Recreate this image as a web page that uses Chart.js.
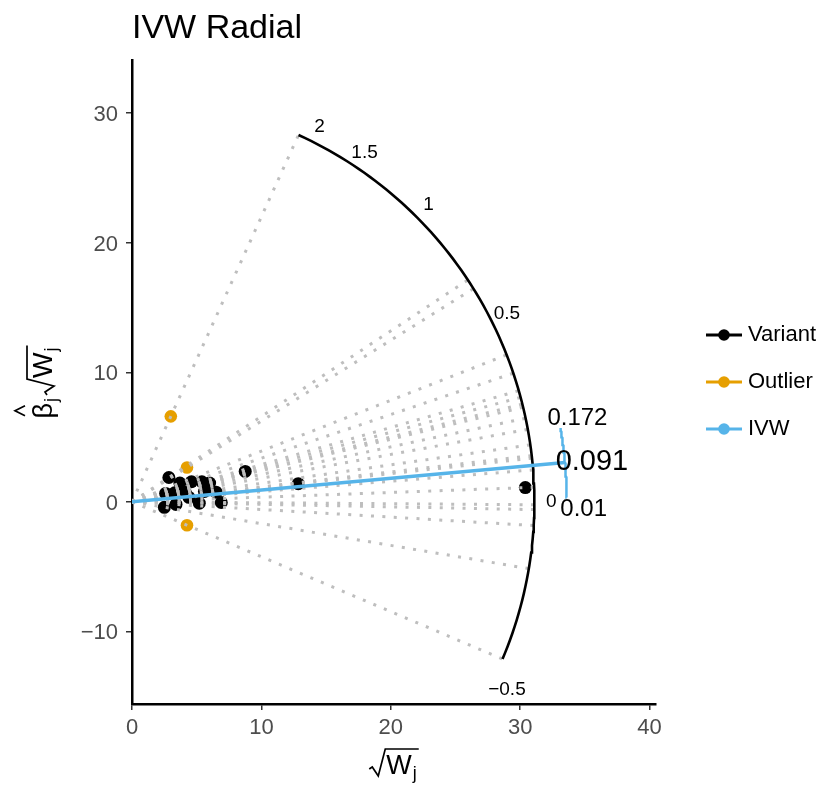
<!DOCTYPE html>
<html>
<head>
<meta charset="utf-8">
<script src="https://cdn.jsdelivr.net/npm/chart.js@4"></script>
<style>
  body { margin: 0; background: #fff; }
  #wrap { width: 828px; height: 791px; position: relative; }
</style>
</head>
<body>
<div id="wrap"><canvas id="radial-chart"></canvas></div>
<script>
// variant coordinates: sqrt(W_j) and beta_j * sqrt(W_j)
const variantX = [2.85, 3.7, 4.6, 5.4, 6.0, 2.6, 3.3, 4.1, 5.6, 6.5, 4.4, 2.5, 3.4, 5.2, 6.9, 8.75, 12.85, 30.4];
const variantY = [1.88, 1.45, 1.55, 1.55, 1.45, 0.65, 0.7, 0.75, 0.8, 0.75, 0.35, -0.42, -0.2, -0.1, -0.05, 2.35, 1.4, 1.1];
const outlierX = [3.0, 4.25, 4.25];
const outlierY = [6.6, 2.65, -1.8];

// IVW estimate and its interval
const ivwEstimate = 0.091;
const ivwLower = 0.01;
const ivwUpper = 0.172;

// slope labels written round the scale arc
const scaleValues = [2, 1.5, 1, 0.5, 0, -0.5];
const scaleLabels = ['2', '1.5', '1', '0.5', '0', '\u22120.5'];

const xTicks = [0, 10, 20, 30, 40];
const yTicks = [-10, 0, 10, 20, 30];

const FONT = "'Liberation Sans', Arial, Helvetica, sans-serif";
const R_CIRCLE = 31.1;
const R_IVW = 33.6;
const R_LABEL = 32.4;

function onCircle(slope, r) {
  const c = 1 / Math.sqrt(1 + slope * slope);
  return { x: r * c, y: r * slope * c };
}

function arcPoints(s1, s2, r) {
  const a1 = Math.atan(s1), a2 = Math.atan(s2);
  const pts = [];
  for (let i = 0; i <= 90; i++) {
    const a = a1 + (a2 - a1) * i / 90;
    pts.push({ x: r * Math.cos(a), y: r * Math.sin(a) });
  }
  return pts;
}

function fmt(v) {
  return v < 0 ? '\u2212' + Math.abs(v) : String(v);
}

const allX = variantX.concat(outlierX);
const allY = variantY.concat(outlierY);
const slopes = allX.map((x, i) => allY[i] / x);

// dotted ray for every variant, from origin to the scale arc
const rays = slopes.map(s => ({
  data: [{ x: 0, y: 0 }, onCircle(s, R_CIRCLE)],
  showLine: true,
  borderColor: '#bebebe',
  borderWidth: 3,
  borderDash: [3, 8.4],
  pointRadius: 0,
  order: 5
}));

const datasets = [
  {
    label: 'Variant',
    data: variantX.map((x, i) => ({ x: x, y: variantY[i] })),
    backgroundColor: '#000000',
    borderWidth: 0,
    pointRadius: 6.5,
    order: 10
  },
  {
    label: 'Outlier',
    data: outlierX.map((x, i) => ({ x: x, y: outlierY[i] })),
    backgroundColor: '#E69F00',
    borderWidth: 0,
    pointRadius: 6.3,
    order: 10
  },
  ...rays,
  {
    label: 'scale',
    data: arcPoints(Math.min(...slopes), Math.max(...slopes), R_CIRCLE),
    showLine: true,
    borderColor: '#000000',
    borderWidth: 2.6,
    pointRadius: 0,
    order: 2
  },
  {
    label: 'IVW',
    data: [{ x: 0, y: 0 }, onCircle(ivwEstimate, R_IVW)],
    showLine: true,
    borderColor: '#56B4E9',
    borderWidth: 3.5,
    pointRadius: 0,
    order: 1
  },
  {
    label: 'IVW CI',
    data: arcPoints(ivwLower, ivwUpper, R_IVW),
    showLine: true,
    borderColor: '#56B4E9',
    borderWidth: 2.5,
    pointRadius: 0,
    order: 1
  }
];

// draws sqrt(W_j) with baseline at base, starting at x; returns end x
function drawSqrtW(ctx, x, base) {
  ctx.font = '27px ' + FONT;
  const wW = ctx.measureText('W').width;
  ctx.font = '18px ' + FONT;
  const wj = ctx.measureText('j').width;
  const top = base - 25;
  const end = x + 17 + wW + 1 + wj + 2;
  ctx.beginPath();
  ctx.moveTo(x, base - 5);
  ctx.lineTo(x + 3, base - 7);
  ctx.lineTo(x + 9, base + 2);
  ctx.lineTo(x + 16, top);
  ctx.lineTo(end, top);
  ctx.lineWidth = 1.7;
  ctx.strokeStyle = '#000';
  ctx.stroke();
  ctx.font = '27px ' + FONT;
  ctx.fillText('W', x + 17, base);
  ctx.font = '18px ' + FONT;
  ctx.fillText('j', x + 17 + wW + 1, base + 5);
  return end;
}

function sqrtWWidth(ctx) {
  ctx.font = '27px ' + FONT;
  const wW = ctx.measureText('W').width;
  ctx.font = '18px ' + FONT;
  const wj = ctx.measureText('j').width;
  return 17 + wW + 1 + wj + 2;
}

const decorations = {
  id: 'decorations',
  afterDraw(chart) {
    const ctx = chart.ctx;
    const xs = chart.scales.x, ys = chart.scales.y;
    const px = p => ({ x: xs.getPixelForValue(p.x), y: ys.getPixelForValue(p.y) });
    ctx.save();
    ctx.fillStyle = '#000';
    ctx.textBaseline = 'alphabetic';

    // title
    ctx.font = '34px ' + FONT;
    ctx.textAlign = 'left';
    ctx.fillText('IVW Radial', 132, 38);

    // slope labels on the arc
    ctx.font = '19px ' + FONT;
    ctx.textAlign = 'center';
    ctx.textBaseline = 'middle';
    scaleValues.forEach((s, i) => {
      const p = px(onCircle(s, R_LABEL));
      ctx.fillText(scaleLabels[i], p.x, p.y);
    });

    // IVW labels
    const up = px(onCircle(ivwUpper, R_IVW));
    const mid = px(onCircle(ivwEstimate, R_IVW));
    const lo = px(onCircle(ivwLower, R_IVW));
    ctx.font = '24px ' + FONT;
    ctx.fillText(String(ivwUpper), up.x + 17, up.y - 10);
    ctx.fillText(String(ivwLower), lo.x + 17, lo.y + 12);
    ctx.font = '29px ' + FONT;
    ctx.fillText(String(ivwEstimate), mid.x + 27, mid.y);

    // x axis title
    ctx.textAlign = 'left';
    ctx.textBaseline = 'alphabetic';
    const cx = (chart.chartArea.left + chart.chartArea.right) / 2;
    const w = sqrtWWidth(ctx);
    drawSqrtW(ctx, cx - w / 2, 774);

    // y axis title, rotated
    const cy = (chart.chartArea.top + chart.chartArea.bottom) / 2;
    ctx.save();
    ctx.translate(52, cy);
    ctx.rotate(-Math.PI / 2);
    ctx.font = '27px ' + FONT;
    const bw = ctx.measureText('\u03b2').width;
    ctx.font = '18px ' + FONT;
    const jw = ctx.measureText('j').width;
    const total = bw + 1 + jw + 3 + w;
    let x0 = -total / 2;
    ctx.font = '27px ' + FONT;
    ctx.fillText('\u03b2', x0, 0);
    ctx.beginPath();
    ctx.moveTo(x0 + bw / 2 - 5, -27);
    ctx.lineTo(x0 + bw / 2, -37);
    ctx.lineTo(x0 + bw / 2 + 5, -27);
    ctx.lineWidth = 1.7;
    ctx.stroke();
    ctx.font = '18px ' + FONT;
    ctx.fillText('j', x0 + bw + 1, 5);
    drawSqrtW(ctx, x0 + bw + 1 + jw + 3, 0);
    ctx.restore();

    // legend
    const items = [['Variant', '#000000'], ['Outlier', '#E69F00'], ['IVW', '#56B4E9']];
    const rows = [335, 382, 429];
    items.forEach((it, i) => {
      const y = rows[i];
      ctx.strokeStyle = it[1];
      ctx.fillStyle = it[1];
      ctx.lineWidth = 2.8;
      ctx.beginPath();
      ctx.moveTo(706, y);
      ctx.lineTo(742, y);
      ctx.stroke();
      ctx.beginPath();
      ctx.arc(724, y, 5.8, 0, Math.PI * 2);
      ctx.fill();
      ctx.fillStyle = '#000';
      ctx.font = '22px ' + FONT;
      ctx.textBaseline = 'middle';
      ctx.fillText(it[0], 748, y);
    });
    ctx.restore();
  }
};

const axisCommon = {
  type: 'linear',
  grid: { drawOnChartArea: false, drawTicks: true, tickLength: 6, color: '#333333', lineWidth: 1.5 },
  border: { display: true, color: '#000000', width: 2.5 },
  ticks: { color: '#4d4d4d', font: { family: FONT, size: 22 }, callback: v => fmt(v) }
};

new Chart(document.querySelector('#radial-chart').getContext('2d'), {
  type: 'scatter',
  data: { datasets: datasets },
  options: {
    responsive: true,
    maintainAspectRatio: false,
    animation: false,
    layout: { padding: { top: 60, right: 172, left: 0, bottom: 0 } },
    plugins: { legend: { display: false }, tooltip: { enabled: false } },
    scales: {
      x: {
        ...axisCommon,
        min: 0,
        max: 40.5,
        ticks: { ...axisCommon.ticks, padding: 5 },
        afterBuildTicks: s => { s.ticks = xTicks.map(v => ({ value: v })); },
        afterFit: s => { s.height = 87; }
      },
      y: {
        ...axisCommon,
        min: -15.6,
        max: 34.1,
        ticks: { ...axisCommon.ticks, padding: 8, labelOffset: 2 },
        afterBuildTicks: s => { s.ticks = yTicks.map(v => ({ value: v })); },
        afterFit: s => { s.width = 132; }
      }
    }
  },
  plugins: [decorations]
});
</script>
</body>
</html>
